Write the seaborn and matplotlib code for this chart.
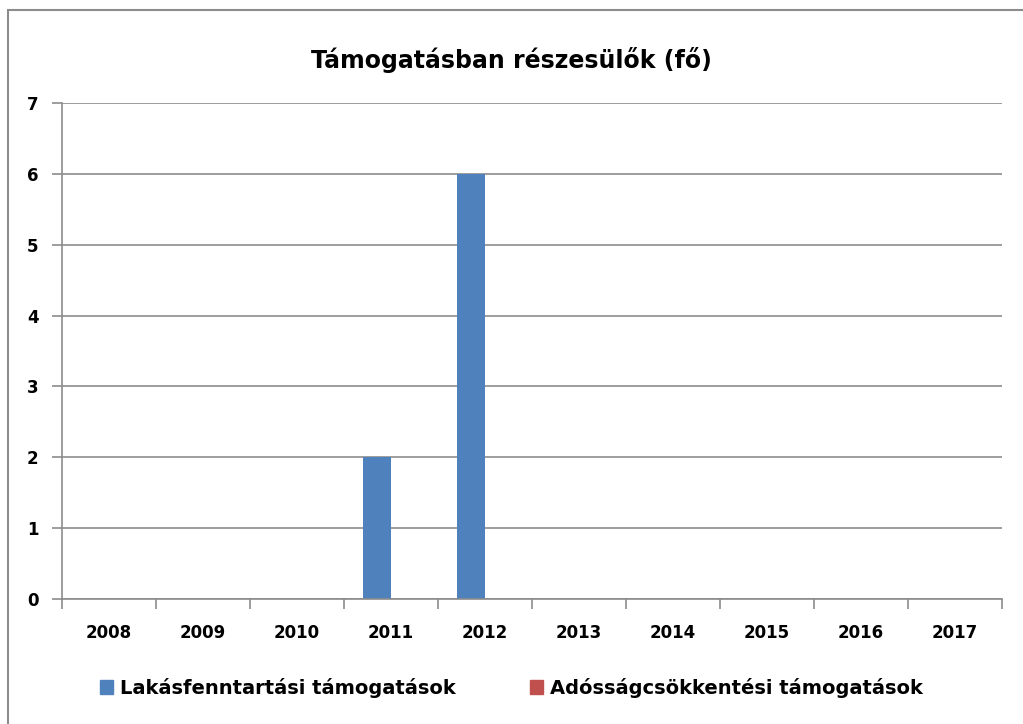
import numpy as np
import pandas as pd
import matplotlib
matplotlib.use("Agg")
import matplotlib.pyplot as plt
import seaborn as sns
from matplotlib.patches import Rectangle

years = ["2008", "2009", "2010", "2011", "2012", "2013", "2014", "2015", "2016", "2017"]
lakas = [0, 0, 0, 2, 6, 0, 0, 0, 0, 0]
adossag = [0, 0, 0, 0, 0, 0, 0, 0, 0, 0]
series_names = ["Lakásfenntartási támogatások", "Adósságcsökkentési támogatások"]
colors = ["#4F81BD", "#C0504D"]

df = pd.DataFrame({
    "Év": years * 2,
    "Érték": lakas + adossag,
    "Sorozat": [series_names[0]] * len(years) + [series_names[1]] * len(years),
})

sns.set_style("white")
plt.rcParams["font.family"] = ["DejaVu Sans"]
plt.rcParams["text.color"] = "black"
plt.rcParams["xtick.color"] = "black"
plt.rcParams["ytick.color"] = "black"

fig = plt.figure(figsize=(10.23, 7.24), dpi=100)
ax = fig.add_axes([62 / 1023, 1 - 599 / 724, (1002 - 62) / 1023, (599 - 103) / 724])

sns.barplot(data=df, x="Év", y="Érték", hue="Sorozat", palette=colors,
            width=0.6, ax=ax, legend=False, saturation=1, linewidth=0)

ax.set_ylim(0, 7)
ax.set_xlim(-0.5, len(years) - 0.5)
ax.set_yticks(range(0, 8))
ax.yaxis.grid(True, color="#8c8c8c", linewidth=1.2)
ax.set_axisbelow(True)
for s in ["top", "right"]:
    ax.spines[s].set_visible(False)
for s in ["left", "bottom"]:
    ax.spines[s].set_color("#8c8c8c")
    ax.spines[s].set_linewidth(1.2)

ax.set_xticks(np.arange(len(years)))
ax.set_xticklabels(years, fontsize=12, fontweight="bold")
ax.tick_params(axis="x", which="major", length=0, pad=18, bottom=True)
ax.set_xticks(np.arange(-0.5, len(years)), minor=True)
ax.tick_params(axis="x", which="minor", length=7, color="#8c8c8c", width=1.2,
               bottom=True)
ax.tick_params(axis="y", length=7, color="#8c8c8c", width=1.2, labelsize=12,
               pad=10, left=True, labelcolor="black")
for lbl in ax.get_yticklabels():
    lbl.set_fontweight("bold")
ax.set_xlabel("")
ax.set_ylabel("")

fig.text(0.5, 1 - 60 / 724, "Támogatásban részesülők (fő)", ha="center", va="center",
         fontsize=17, fontweight="bold")

handles = [Rectangle((0, 0), 1, 1, color=c) for c in colors]
fig.legend(handles, series_names, loc="center", bbox_to_anchor=(0.5, 1 - 688 / 724),
           ncol=2, frameon=False, prop={"size": 14, "weight": "bold"},
           handlelength=0.7, handleheight=0.7, handletextpad=0.35, columnspacing=3.8)

fig.add_artist(Rectangle((8 / 1023, -0.01), 1.0, 1 - 10 / 724 + 0.01,
                         transform=fig.transFigure, fill=False,
                         edgecolor="#8c8c8c", linewidth=1.5))

fig.savefig("out.png", dpi=100)
